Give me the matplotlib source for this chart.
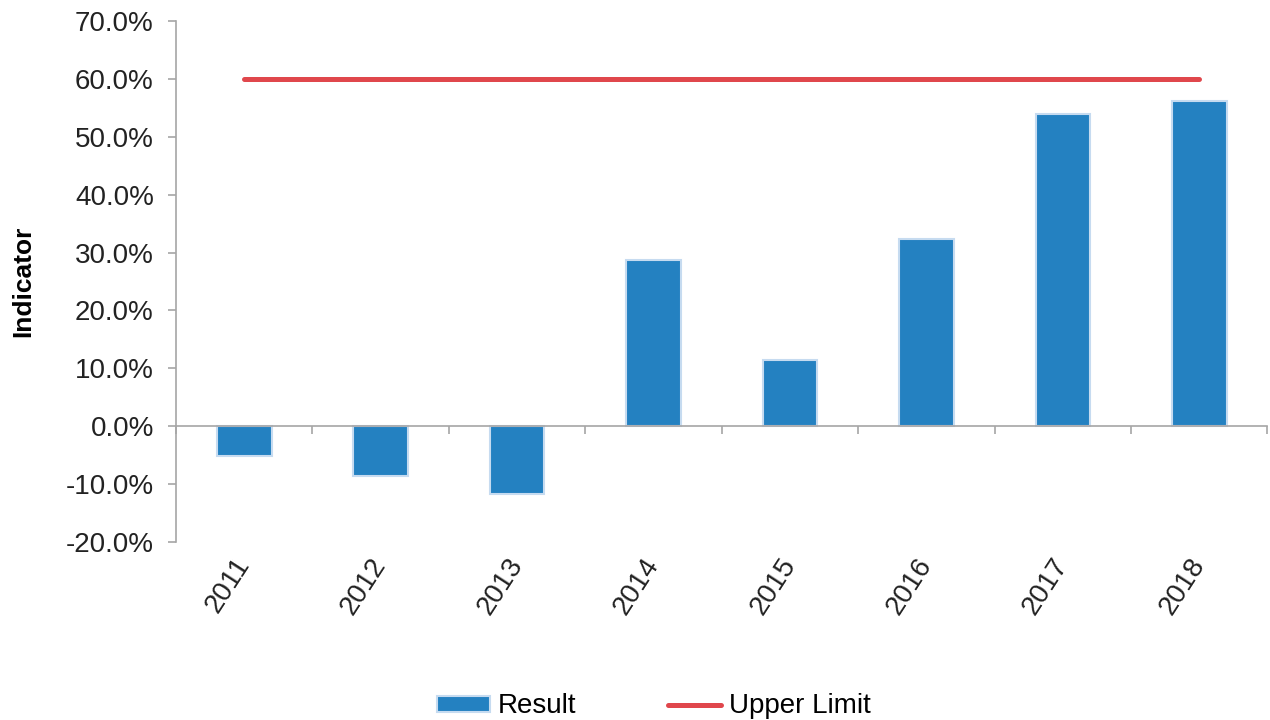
import numpy as np
import matplotlib.pyplot as plt
from matplotlib.ticker import PercentFormatter

plt.rcParams['font.family'] = ['Liberation Sans', 'DejaVu Sans']
plt.rcParams['axes.unicode_minus'] = False

# Data
years = ['2011', '2012', '2013', '2014', '2015', '2016', '2017', '2018']
result = [-5.1, -8.6, -11.7, 28.7, 11.5, 32.4, 54.0, 56.2]
upper_limit = [60.0, 60.0, 60.0, 60.0, 60.0, 60.0, 60.0, 60.0]

grey = '#A6A6A6'
x = np.arange(len(years))

fig = plt.figure(figsize=(12.7, 7.2), dpi=100)
ax = fig.add_axes([0.1386, 0.247, 0.8594, 0.724])

bars = ax.bar(x, result, width=0.4, color='#2481C1', edgecolor='#C6DBF0',
              linewidth=1.5, label='Result', zorder=2)
line, = ax.plot(x, upper_limit, color='#E0474C', lw=3.6, label='Upper Limit',
                zorder=3, solid_capstyle='round')

ax.set_xlim(-0.5, len(years) - 0.5)
ax.set_ylim(-20, 70)
ax.set_yticks(np.arange(-20, 70.1, 10))
ax.yaxis.set_major_formatter(PercentFormatter(100, decimals=1))
ax.tick_params(axis='y', labelsize=20, colors=grey, labelcolor='#222222',
               length=6, width=1.2, pad=10)
ax.set_ylabel('Indicator', fontsize=19, fontweight='bold', labelpad=22)

# category axis line sits at zero, with ticks between categories
for s in ['top', 'right']:
    ax.spines[s].set_visible(False)
ax.spines['left'].set_color(grey)
ax.spines['left'].set_linewidth(1.2)
ax.spines['bottom'].set_position(('data', 0))
ax.spines['bottom'].set_color(grey)
ax.spines['bottom'].set_linewidth(1.2)
ax.set_xticks(x)
ax.set_xticks(np.arange(len(years) + 1) - 0.5, minor=True)
ax.tick_params(axis='x', which='major', length=0, labelbottom=False)
ax.tick_params(axis='x', which='minor', length=6, width=1.2, colors=grey)

# year labels at the bottom of the plot area
sec = ax.secondary_xaxis(0)
sec.set_xticks(x)
sec.set_xticklabels(years, rotation=57, ha='right', va='center',
                    rotation_mode='anchor')
sec.tick_params(length=0, labelsize=20, labelcolor='#222222', pad=13)
sec.spines['bottom'].set_visible(False)

fig.legend([bars, line], ['Result', 'Upper Limit'], loc='lower center',
           bbox_to_anchor=(0.515, -0.034), ncol=2, frameon=False, fontsize=20,
           columnspacing=3.3, handlelength=1.9, handleheight=0.5,
           handletextpad=0.3)

fig.savefig('out.png', dpi=100)
